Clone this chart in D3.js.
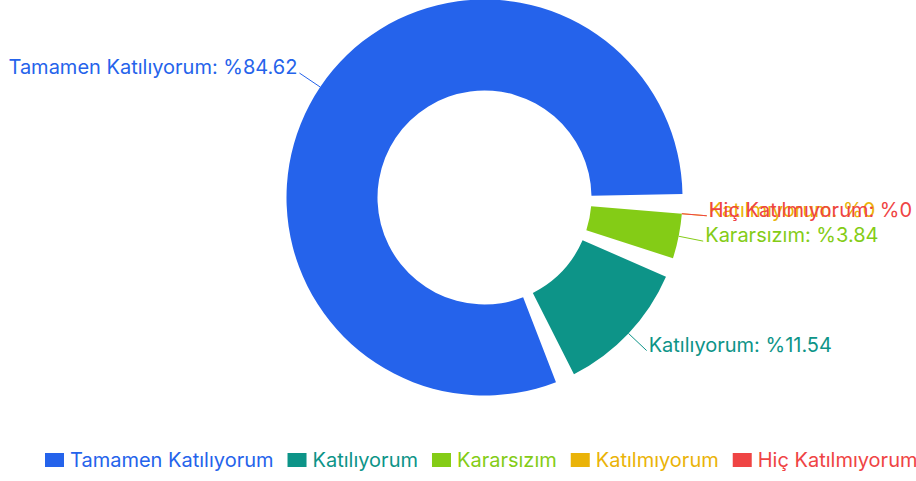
<!DOCTYPE html>
<html>
<head>
<meta charset="utf-8">
<script src="https://cdn.jsdelivr.net/npm/d3@7"></script>
<style>
  body { margin: 0; background: #fff; overflow: hidden; }
  text { font-family: Inter, "Noto Sans", sans-serif; }
</style>
</head>
<body>
<div id="chart"></div>
<script>
// data
var categories = ["Tamamen Katılıyorum", "Katılıyorum", "Kararsızım", "Katılmıyorum", "Hiç Katılmıyorum"];
var values = [84.62, 11.54, 3.84, 0, 0];
var colors = ["#2563eb", "#0d9488", "#84cc16", "#eab308", "#ef4444"];

var W = 916, H = 481;
var cx = 484.5, cy = 197.5;
var outerR = 198, innerR = 107;
var fontSize = 20;
var gap = 5.7 * Math.PI / 180;      // angular gap between non-zero slices
var a0 = 89 * Math.PI / 180;        // start angle (d3 convention), runs counterclockwise

var svg = d3.select("#chart").append("svg").attr("width", W).attr("height", H);
var g = svg.append("g").attr("transform", "translate(" + cx + "," + cy + ")");

// slice angles, counterclockwise, zero slices take no room
var total = d3.sum(values);
var nonZero = values.filter(function (v) { return v > 0; }).length;
var k = d3.scaleLinear().domain([0, total]).range([0, 2 * Math.PI - nonZero * gap]);
var slices = [];
var ang = a0, seen = 0;
values.forEach(function (v, i) {
    if (v > 0 && seen++ > 0) ang -= gap;
    var span = k(v);
    slices.push({ name: categories[i], value: v, color: colors[i], startAngle: ang, endAngle: ang - span });
    ang -= span;
});

var arc = d3.arc().innerRadius(innerR).outerRadius(outerR);

g.selectAll(".slice").data(slices.filter(function (d) { return d.value > 0; }))
    .enter().append("path")
    .attr("class", "slice")
    .attr("d", arc)
    .attr("fill", function (d) { return d.color; });

// labels with leader lines
function pt(a, r) { return [Math.sin(a) * r, -Math.cos(a) * r]; }
var lab = g.selectAll(".lab").data(slices).enter().append("g").attr("class", "lab");
lab.each(function (d) {
    var mid = (d.startAngle + d.endAngle) / 2;
    var p0 = pt(mid, outerR), p1 = pt(mid, outerR + 25);
    var right = p1[0] >= 0;
    var el = d3.select(this);
    el.append("polyline")
        .attr("points", [p0, p1].map(function (p) { return p.join(","); }).join(" "))
        .attr("fill", "none")
        .attr("stroke", d.color)
        .attr("stroke-width", 1);
    el.append("text")
        .attr("x", p1[0] + (right ? 2 : -2))
        .attr("y", p1[1] + 1)
        .attr("text-anchor", right ? "start" : "end")
        .attr("fill", d.color)
        .style("font-size", fontSize + "px")
        .text(d.name + ": %" + d.value);
});

// legend
var legend = svg.append("g").attr("transform", "translate(45,453)");
var lx = 0;
categories.forEach(function (c, i) {
    var item = legend.append("g").attr("transform", "translate(" + lx + ",0)");
    item.append("rect").attr("width", 19).attr("height", 14).attr("fill", colors[i]);
    var t = item.append("text")
        .attr("x", 25).attr("y", 14)
        .attr("fill", colors[i])
        .style("font-size", fontSize + "px")
        .text(c);
    lx += 25 + t.node().getComputedTextLength() + 14;
});
</script>
</body>
</html>
